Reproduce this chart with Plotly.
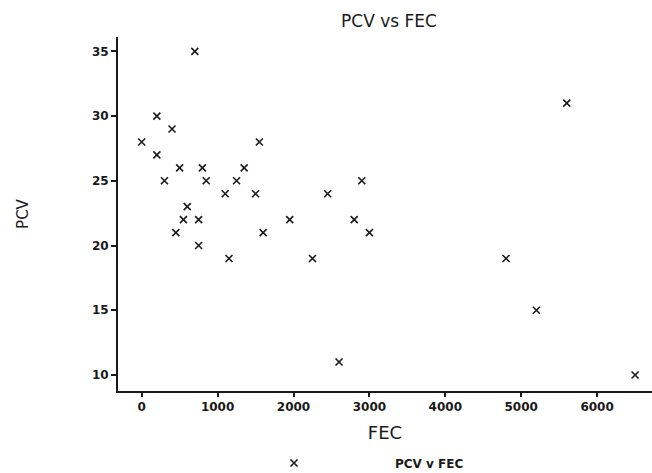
import plotly.graph_objects as go

# FEC (faecal egg count) and PCV (packed cell volume) for each animal
fec = [0, 200, 200, 400, 300, 500, 450, 550, 600, 700, 750, 750, 800, 850,
       1100, 1150, 1250, 1350, 1500, 1550, 1600, 1950, 2250, 2450, 2600,
       2800, 2900, 3000, 4800, 5200, 5600, 6500]
pcv = [28, 30, 27, 29, 25, 26, 21, 22, 23, 35, 22, 20, 26, 25,
       24, 19, 25, 26, 24, 28, 21, 22, 19, 24, 11,
       22, 25, 21, 19, 15, 31, 10]

x_ticks = [0, 1000, 2000, 3000, 4000, 5000, 6000]
y_ticks = [10, 15, 20, 25, 30, 35]

ink = "#1a1a1a"
font_main = "DejaVu Sans"

fig = go.Figure()
fig.add_trace(go.Scatter(
    x=fec, y=pcv, mode="markers", name="PCV v FEC",
    marker=dict(symbol="x-thin", size=7, color=ink,
                line=dict(width=1.6, color=ink)),
))

fig.update_layout(
    width=652, height=473,
    margin=dict(l=118, r=0, t=37, b=82, autoexpand=False),
    paper_bgcolor="white", plot_bgcolor="white",
    title=dict(text="PCV vs FEC", x=389 / 652, xanchor="center",
               y=1 - 21 / 473, yanchor="middle",
               font=dict(family=font_main, size=17, color=ink)),
    xaxis=dict(
        range=[-312, 6723], tickvals=x_ticks, automargin=False,
        ticks="outside", ticklen=4, tickwidth=1.5, tickcolor=ink,
        showline=True, linewidth=1.5, linecolor=ink,
        showgrid=False, zeroline=False,
        tickfont=dict(family=font_main, size=12, color=ink, weight="bold"),
        title=dict(text="FEC", standoff=13,
                   font=dict(family=font_main, size=18, color=ink)),
    ),
    yaxis=dict(
        range=[8.76, 36.11], tickvals=y_ticks, automargin=False,
        ticks="outside", ticklen=5, tickwidth=1.5, tickcolor=ink,
        showline=True, linewidth=2, linecolor=ink,
        showgrid=False, zeroline=False,
        tickfont=dict(family=font_main, size=12, color=ink, weight="bold"),
        title=dict(text="PCV", standoff=60,
                   font=dict(family=font_main, size=15, color=ink)),
    ),
    showlegend=True,
    legend=dict(orientation="h", xref="container", yref="container",
                x=193 / 652, xanchor="left",
                y=1 - 463 / 473, yanchor="middle",
                itemwidth=192,
                font=dict(family=font_main, size=12, color=ink, weight="bold"),
                bgcolor="rgba(0,0,0,0)"),
)

fig.write_html("out.html")
